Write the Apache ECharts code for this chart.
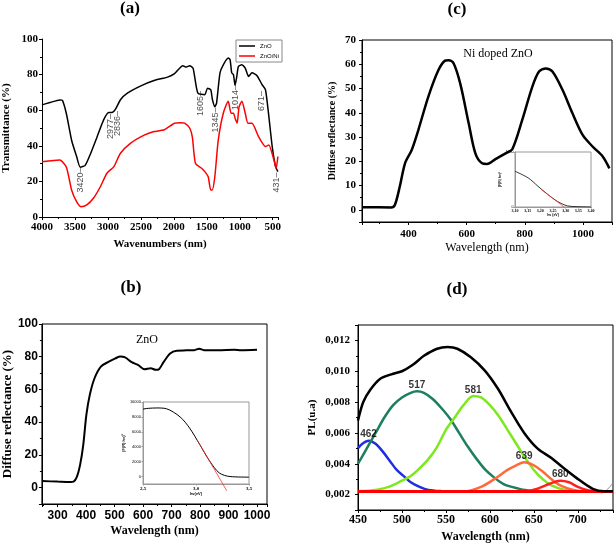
<!DOCTYPE html>
<html><head><meta charset="utf-8">
<script src="https://cdn.jsdelivr.net/npm/echarts@6/dist/echarts.min.js"></script>
<style>html,body{margin:0;padding:0;background:#fff}#c{width:615px;height:545px}</style>
</head><body><div id="c"></div>
<script>
// ---------- DATA ----------
// (a) FTIR
const ftirZnO = [[4000,63],[3880,64.3],[3730,65.8],[3690,65.5],[3630,58],[3550,43],[3475,34],[3420,28],[3345,29],[3270,35],[3165,45],[3065,54.6],[2988,58.7],[2940,58.7],[2885,60.6],[2810,65.9],[2705,69.6],[2500,73.7],[2300,76.7],[2095,78.6],[1990,80.5],[1865,85],[1812,84.2],[1760,85],[1710,83.7],[1685,79],[1635,69.6],[1530,68.7],[1490,72.4],[1440,71.5],[1415,66],[1378,62],[1352,64],[1300,81],[1250,85.5],[1175,89.3],[1147,88.4],[1122,81],[1096,80],[1071,74],[1045,79],[1020,84.6],[968,85.5],[917,83.7],[866,79],[815,81],[738,79.4],[661,74.3],[610,71.5],[559,56.5],[508,39.6],[457,28.3],[422,25.5]];
const ftirZnONi = [[4000,31],[3730,32],[3630,28],[3550,15],[3475,8.6],[3410,5.8],[3320,6.8],[3220,10.5],[3115,17],[3015,24.6],[2910,28.3],[2810,35.8],[2655,41.5],[2450,46],[2300,48],[2145,49],[1990,52.7],[1890,53],[1837,52.7],[1760,50],[1720,45],[1695,36],[1670,30],[1580,27.4],[1530,25.5],[1480,22.7],[1440,15.2],[1418,15.2],[1378,22.7],[1327,43],[1250,58.3],[1175,65],[1132,58.3],[1096,58.3],[1071,55.5],[1040,52.7],[1010,62],[968,65],[917,58.3],[876,52.7],[815,52.7],[713,45],[610,39.6],[559,40.5],[482,32],[447,27.4],[422,34]];
const noteText = ['3420','2977','2836','1605','1345','1014','671','431'];
const noteX = [3420,2962,2850,1597,1371,1070,676,445];
const noteY = [20.8,50.8,52.5,63.8,54.5,67.1,65.2,19.4];
// (b) ZnO diffuse reflectance
const drZnO = [[245,4],[300,3.7],[345,3.5],[356,3.7],[368,6.7],[379,13.9],[390,26],[401,44.5],[413,56.7],[430,67],[452,74],[480,77],[503,79],[520,80.2],[537,79.6],[560,76.7],[582,75],[605,72.4],[627,73],[644,72],[656,72.4],[672,76.7],[695,82],[718,83.7],[752,83.9],[780,84],[797,84.9],[814,84],[864,84],[921,84.3],[944,84],[1000,84.3]];
const taucZnO = [[2.5,9050],[2.55,9150],[2.63,9200],[2.72,9100],[2.85,8000],[2.94,6500],[3.035,4300],[3.13,2050],[3.22,480],[3.32,0],[3.5,-80]];
const tangentZnO = [[3.02,4700],[3.29,-1900]];
// (c) Ni doped ZnO diffuse reflectance
const drNi = [[240,1.1],[340,1],[353,2],[370,9.6],[388,19.2],[411,24.7],[434,33],[468,46.6],[503,57.6],[526,61.5],[538,61.7],[555,60.4],[578,52],[607,35.7],[630,23.3],[653,19.2],[670,18.9],[699,20.9],[734,23.3],[757,25],[791,37],[826,50.8],[849,57],[872,58.3],[895,57],[930,49.4],[964,39.8],[999,30.9],[1034,26],[1068,22],[1091,17.1]];
const taucNi = [[3.10,650],[3.152,530],[3.19,380],[3.229,230],[3.268,100],[3.307,20],[3.346,6],[3.40,0]];
const tangentNi = [[3.203,320],[3.294,0]];
// (d) PL deconvolution
const plTotal = [[450,0.0068],[456,0.0080],[464,0.0088],[475,0.0095],[488,0.0098],[500,0.0100],[512,0.0104],[525,0.0110],[540,0.01146],[552,0.01157],[563,0.01146],[578,0.01092],[594,0.01006],[609,0.00888],[624,0.00738],[639,0.0060],[654,0.0050],[670,0.00437],[680,0.0039],[698,0.0031],[717,0.00237],[730,0.00222],[740,0.00222]];
const pl462 = [[450,0.0050],[455,0.0053],[462,0.0055],[470,0.0053],[478,0.0048],[486,0.0042],[494,0.0036],[502,0.0032],[510,0.0028],[520,0.0025],[530,0.0023],[545,0.00222],[560,0.0022],[740,0.0022]];
const pl517 = [[450,0.0040],[460,0.0050],[470,0.0060],[480,0.0070],[490,0.0078],[500,0.0083],[510,0.0086],[517,0.0087],[525,0.0086],[535,0.0082],[545,0.0076],[555,0.0069],[565,0.0060],[575,0.0051],[585,0.0043],[595,0.0036],[605,0.0031],[615,0.0027],[625,0.0025],[640,0.0023],[660,0.00222],[700,0.0022],[740,0.0022]];
const pl581 = [[450,0.00222],[470,0.0023],[485,0.0025],[500,0.0029],[510,0.0032],[520,0.0037],[530,0.0043],[540,0.0051],[550,0.0062],[560,0.0070],[570,0.0078],[581,0.0084],[590,0.0083],[600,0.0078],[610,0.0071],[620,0.0062],[630,0.0053],[640,0.0044],[650,0.0036],[660,0.0030],[670,0.0026],[685,0.0023],[700,0.0022],[740,0.0022]];
const pl639 = [[450,0.0022],[570,0.0022],[590,0.0025],[605,0.0030],[620,0.0036],[630,0.0039],[639,0.0041],[650,0.0039],[660,0.0035],[670,0.0030],[680,0.0026],[695,0.0023],[710,0.0022],[740,0.0022]];
const pl680 = [[450,0.0022],[640,0.0022],[655,0.0024],[668,0.0027],[680,0.0029],[690,0.0028],[700,0.0025],[710,0.0023],[720,0.0022],[740,0.0022]];
const plBase = [[450,0.0022],[740,0.0022]];
const plTail = [[712,0.0023],[721,0.00232],[727,0.00211],[733,0.0023],[739,0.00269]];
const plPeaks = [[462,0.0055],[517,0.0087],[581,0.0084],[639,0.0041],[680,0.0029]];

// ---------- STYLE HELPERS ----------
const SERIF = '"Liberation Serif","Times New Roman",serif';
const SANS = '"Liberation Sans",Arial,sans-serif';
const comma = d => v => v.toFixed(d).replace('.', ',');
const plain = v => String(v);

function ax(o) {
  const col = o.color || '#000';
  return Object.assign({
    type: 'value',
    splitLine: {show: false},
    axisLine: {show: true, onZero: false, lineStyle: {color: col, width: 1}},
    axisTick: {show: true, inside: false, length: o.tickLen || 3, lineStyle: {color: col}},
    minorTick: {show: o.minor !== false, splitNumber: 2, length: 2, lineStyle: {color: col}},
    axisLabel: {
      color: '#000', fontFamily: o.lf || SERIF, fontWeight: o.lw || 'bold', fontSize: o.ls || 11,
      margin: o.margin == null ? 4 : o.margin, showMinLabel: o.showMin, showMaxLabel: o.showMax,
      formatter: o.fmt || plain
    },
    nameLocation: 'middle',
    nameTextStyle: {color: '#000', fontFamily: o.nf || SERIF, fontWeight: o.nw || 'bold', fontSize: o.ns || 11},
  }, o.extra);
}

const chart = echarts.init(document.getElementById('c'), null, {renderer: 'canvas'});

const lineS = (name, data, xi, color, width, extra) => Object.assign({
  name, type: 'line', data, xAxisIndex: xi, yAxisIndex: xi, showSymbol: false, symbol: 'none',
  smooth: 0.3, lineStyle: {color, width}, itemStyle: {color}, silent: true, z: 3
}, extra || {});

const option = {
  animation: false,
  backgroundColor: '#fff',
  grid: [
    {left: 42, top: 39, width: 236, height: 178},
    {left: 362, top: 40, width: 250, height: 182, show: true, borderColor: '#000', borderWidth: 1},
    {left: 33, top: 324, width: 234, height: 180, show: true, borderColor: '#000', borderWidth: 1},
    {left: 358, top: 325, width: 255, height: 185, show: true, borderColor: '#000', borderWidth: 1},
    {left: 143, top: 402, width: 106, height: 82, show: true, borderColor: '#999', borderWidth: 1, z: 5},
    {left: 515, top: 152, width: 76, height: 55, show: true, borderColor: '#999', borderWidth: 1, z: 5}
  ],
  legend: {
    data: ['ZnO', 'ZnO/Ni'], orient: 'vertical', left: 236, top: 40, icon: 'rect',
    itemWidth: 16, itemHeight: 1.5, itemGap: 4, padding: [3, 3],
    borderColor: '#888', borderWidth: 1, backgroundColor: '#fff',
    textStyle: {fontSize: 6, fontFamily: SANS, color: '#000'}
  },
  xAxis: [
    ax({extra: {gridIndex: 0, inverse: true, min: 420, max: 4000, splitNumber: 7, name: 'Wavenumbers (nm)', nameGap: 22}, showMin: false, margin: 5}),
    ax({extra: {gridIndex: 1, min: 240, max: 1100, splitNumber: 4, name: 'Wavelength (nm)', nameGap: 20}, showMin: false, showMax: false, margin: 7, nw: 'normal', ns: 12}),
    ax({extra: {gridIndex: 2, min: 245, max: 1035, splitNumber: 8, name: 'Wavelength (nm)', nameGap: 21}, showMin: false, showMax: false, margin: 6, lf: SANS, ls: 12, ns: 12}),
    ax({extra: {gridIndex: 3, min: 450, max: 740, interval: 50, name: 'Wavelength (nm)', nameGap: 21}, showMax: false, margin: 4, ls: 12, ns: 12}),
    ax({extra: {gridIndex: 4, min: 2.5, max: 3.5, interval: 0.5, name: 'hν(eV)', nameGap: 7}, color: '#999', tickLen: 1.5, minor: false, ls: 5, ns: 4, nf: SANS, margin: 2, fmt: comma(1)}),
    ax({extra: {gridIndex: 5, min: 3.10, max: 3.40, interval: 0.05, name: 'hν (eV)', nameGap: 6}, color: '#999', tickLen: 1.5, minor: false, ls: 4, ns: 3.5, nf: SANS, margin: 1.5, fmt: comma(2)})
  ],
  yAxis: [
    ax({extra: {gridIndex: 0, min: 0, max: 100, interval: 20, name: 'Transmittance (%)', nameGap: 30}, margin: 4}),
    ax({extra: {gridIndex: 1, min: -5, max: 70, splitNumber: 8, name: 'Diffuse reflectance (%)', nameGap: 25}, showMin: false, margin: 6, ns: 10}),
    ax({extra: {gridIndex: 2, min: -10, max: 100, splitNumber: 5, name: 'Diffuse reflectance (%)', nameGap: 21}, showMin: false, margin: 4, lf: SANS, ls: 12, ns: 13}),
    ax({extra: {gridIndex: 3, min: 0.001, max: 0.013, splitNumber: 5, name: 'PL(u.a)', nameGap: 40}, showMin: false, showMax: false, margin: 8, fmt: comma(3)}),
    ax({extra: {gridIndex: 4, min: -1000, max: 10000, splitNumber: 5, name: '(F(R) hν)²', nameGap: 14}, showMin: false, color: '#999', tickLen: 1.5, minor: false, ls: 4, lw: 'normal', lf: SANS, ns: 4, nf: SANS, margin: 2}),
    ax({extra: {gridIndex: 5, min: 0, max: 1000, interval: 1000, name: '(F(R) hν)²', nameGap: 4}, color: '#999', tickLen: 1.5, minor: false, ls: 3.5, lw: 'normal', lf: SANS, ns: 3.5, nf: SANS, margin: 1.5})
  ],
  series: [
    lineS('ZnO', ftirZnO, 0, '#000', 1.5, {smooth: 0.2}),
    lineS('ZnO/Ni', ftirZnONi, 0, '#ff0000', 1.5, {smooth: 0.2}),
    {
      name: 'notes', type: 'scatter', xAxisIndex: 0, yAxisIndex: 0, symbolSize: 0, silent: true, z: 4,
      data: noteText.map((t, i) => ({value: [noteX[i], noteY[i]], label: {formatter: t + '–'}})),
      label: {show: true, rotate: 90, position: 'inside', fontSize: 9, fontFamily: SANS, color: '#222'}
    },
    lineS('ZnO-b', drZnO, 2, '#000', 2),
    lineS('tauc-b', taucZnO, 4, '#000', 1, {z: 6}),
    lineS('tan-b', tangentZnO, 4, '#ff3030', 0.8, {smooth: false, clip: false, z: 7}),
    lineS('Ni-c', drNi, 1, '#000', 2.5),
    lineS('tauc-c', taucNi, 5, '#000', 0.8, {z: 6}),
    lineS('tan-c', tangentNi, 5, '#ff3030', 0.7, {smooth: false, z: 7}),
    lineS('base', plBase, 3, '#ff0000', 3, {smooth: false, z: 4}),
    lineS('p462', pl462, 3, '#1f2fe0', 2.5),
    lineS('p517', pl517, 3, '#1e7f5e', 2.5),
    lineS('p581', pl581, 3, '#7ee81e', 2.5),
    lineS('p639', pl639, 3, '#ff6a3a', 2.5),
    lineS('p680', pl680, 3, '#ff2020', 2.5),
    lineS('tail', plTail, 3, '#888', 1),
    lineS('total', plTotal, 3, '#000', 2.5, {z: 5}),
    {
      name: 'peaks', type: 'scatter', xAxisIndex: 3, yAxisIndex: 3, symbolSize: 0, silent: true, z: 6,
      data: plPeaks,
      label: {show: true, position: 'top', distance: 1, fontSize: 10, fontWeight: 'bold', fontFamily: SANS, color: '#000',
              formatter: p => String(p.data[0])}
    }
  ],
  graphic: [
    {type: 'text', x: 130, y: 9, style: {text: '(a)', font: 'bold 17px ' + SERIF, textAlign: 'center', textVerticalAlign: 'middle', fill: '#000'}},
    {type: 'text', x: 457, y: 10, style: {text: '(c)', font: 'bold 17px ' + SERIF, textAlign: 'center', textVerticalAlign: 'middle', fill: '#000'}},
    {type: 'text', x: 131, y: 288, style: {text: '(b)', font: 'bold 17px ' + SERIF, textAlign: 'center', textVerticalAlign: 'middle', fill: '#000'}},
    {type: 'text', x: 457, y: 290, style: {text: '(d)', font: 'bold 17px ' + SERIF, textAlign: 'center', textVerticalAlign: 'middle', fill: '#000'}},
    {type: 'text', x: 147, y: 340, style: {text: 'ZnO', font: '12px ' + SERIF, textAlign: 'center', textVerticalAlign: 'middle', fill: '#000'}},
    {type: 'text', x: 498, y: 54, style: {text: 'Ni doped ZnO', font: '12px ' + SERIF, textAlign: 'center', textVerticalAlign: 'middle', fill: '#000'}}
  ]
};
chart.setOption(option);
</script></body></html>
